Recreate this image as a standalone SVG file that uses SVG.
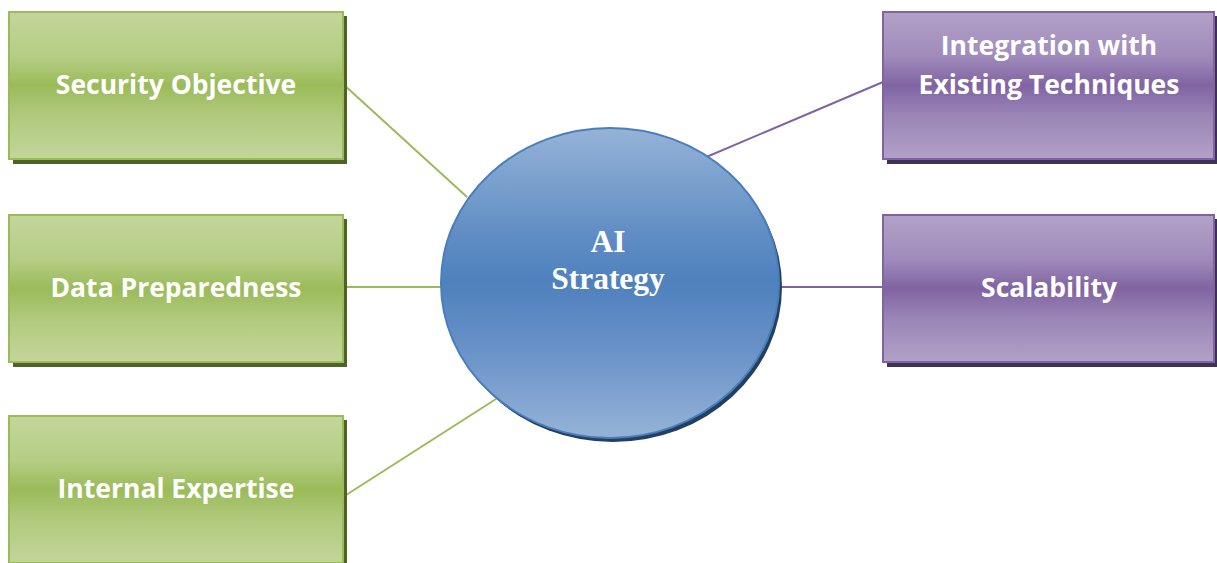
<svg xmlns="http://www.w3.org/2000/svg" width="1217" height="563" viewBox="0 0 1217 563">
  <defs>
    <linearGradient id="gGreen" x1="0" y1="0" x2="0" y2="1">
      <stop offset="0" stop-color="#c3d69b"/>
      <stop offset="0.3" stop-color="#b5cd85"/>
      <stop offset="0.5" stop-color="#9bbb59"/>
      <stop offset="0.7" stop-color="#b0c97c"/>
      <stop offset="1" stop-color="#c3d69b"/>
    </linearGradient>
    <linearGradient id="gPurple" x1="0" y1="0" x2="0" y2="1">
      <stop offset="0" stop-color="#b2a1c7"/>
      <stop offset="0.3" stop-color="#a08bbb"/>
      <stop offset="0.5" stop-color="#8064a2"/>
      <stop offset="0.7" stop-color="#9a85b6"/>
      <stop offset="1" stop-color="#b2a1c7"/>
    </linearGradient>
    <linearGradient id="gBlue" x1="0" y1="0" x2="0" y2="1">
      <stop offset="0" stop-color="#95b3d7"/>
      <stop offset="0.35" stop-color="#5f8cc4"/>
      <stop offset="0.5" stop-color="#4f81bd"/>
      <stop offset="0.7" stop-color="#6790c7"/>
      <stop offset="1" stop-color="#95b3d7"/>
    </linearGradient>
  </defs>
  <style>
    .shG { fill: #4f6228; }
    .shP { fill: #3f3151; }
    .boxG { fill: url(#gGreen); stroke: #9bbb59; stroke-width: 2; }
    .boxP { fill: url(#gPurple); stroke: #8064a2; stroke-width: 2; }
    .lbl { font-family: "Open Sans", "Liberation Sans", sans-serif; font-weight: bold; font-size: 26.5px; fill: #ffffff; text-anchor: middle; }
    .core { font-family: "Liberation Serif", serif; font-weight: bold; font-size: 31.5px; fill: #ffffff; text-anchor: middle; }
    .lnG { stroke: #9bbb59; stroke-width: 2; fill: none; }
    .lnP { stroke: #8064a2; stroke-width: 2; fill: none; }
  </style>

  <g id="connectors">
    <line class="lnG" x1="343" y1="84" x2="467" y2="197"/>
    <line class="lnG" x1="343" y1="287" x2="441" y2="287"/>
    <line class="lnG" x1="343" y1="497" x2="496" y2="399"/>
    <line class="lnP" x1="883" y1="82" x2="704" y2="158"/>
    <line class="lnP" x1="780" y1="287" x2="883" y2="287"/>
  </g>

  <g id="ai-strategy">
    <ellipse cx="613" cy="287" rx="169" ry="155" fill="#243f60"/>
    <ellipse cx="610" cy="283" rx="169" ry="155" fill="url(#gBlue)" stroke="#4a7ebb" stroke-width="2"/>
    <text class="core" x="608" y="252">AI</text>
    <text class="core" x="608" y="289">Strategy</text>
  </g>

  <g id="security-objective">
    <rect class="shG" x="13" y="16" width="334" height="148"/>
    <rect class="boxG" x="9" y="12" width="334" height="147"/>
    <text class="lbl" x="176" y="94">Security Objective</text>
  </g>

  <g id="data-preparedness">
    <rect class="shG" x="13" y="219" width="334" height="148"/>
    <rect class="boxG" x="9" y="215" width="334" height="147"/>
    <text class="lbl" x="176" y="297">Data Preparedness</text>
  </g>

  <g id="internal-expertise">
    <rect class="shG" x="13" y="420" width="334" height="148"/>
    <rect class="boxG" x="9" y="416" width="334" height="147"/>
    <text class="lbl" x="176" y="498">Internal Expertise</text>
  </g>

  <g id="integration">
    <rect class="shP" x="887" y="16" width="331" height="148"/>
    <rect class="boxP" x="883" y="12" width="331" height="147"/>
    <text class="lbl" x="1049" y="55">Integration with</text>
    <text class="lbl" x="1049" y="94">Existing Techniques</text>
  </g>

  <g id="scalability">
    <rect class="shP" x="887" y="219" width="331" height="148"/>
    <rect class="boxP" x="883" y="215" width="331" height="147"/>
    <text class="lbl" x="1049" y="297">Scalability</text>
  </g>
</svg>
